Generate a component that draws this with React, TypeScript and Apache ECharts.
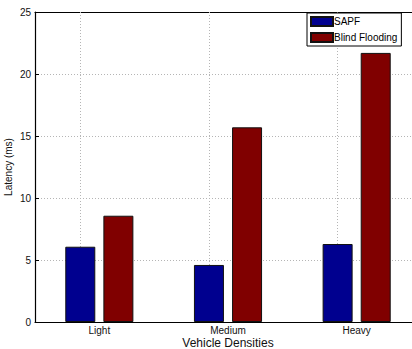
import React, { useEffect, useRef } from "react";
import * as echarts from "echarts";

// Vehicle density groups and latency per scheme
const categories = ["Light", "Medium", "Heavy"];
const sapfLatency = [6.07, 4.6, 6.29];
const blindFloodingLatency = [8.57, 15.7, 21.7];
const yTicks = { min: 0, max: 25, interval: 5 };

const FONT = "Liberation Sans, Arial, Helvetica, sans-serif";

export default function App() {
  const ref = useRef<HTMLDivElement>(null);

  useEffect(() => {
    if (!ref.current) return;
    const chart = echarts.init(ref.current, undefined, { renderer: "svg" });

    const gridDots = { color: "#b5b5b5", type: [1, 2] as any, width: 1 };

    chart.setOption({
      animation: false,
      backgroundColor: "#ffffff",
      grid: {
        left: 35,
        top: 12,
        width: 386,
        height: 310,
        containLabel: false,
        outerBoundsMode: "none",
      },
      legend: {
        orient: "vertical",
        left: 307,
        top: 13,
        padding: [3, 4, 3, 3],
        itemWidth: 22,
        itemHeight: 9,
        itemGap: 5,
        backgroundColor: "#ffffff",
        borderColor: "#000000",
        borderWidth: 1,
        borderRadius: 0,
        icon: "rect",
        textStyle: { fontFamily: FONT, fontSize: 10, color: "#000", padding: [0, 0, 0, -4] },
        data: ["SAPF", "Blind Flooding"],
      },
      xAxis: [
        {
          type: "category",
          data: categories,
          position: "bottom",
          name: "Vehicle Densities",
          nameLocation: "middle",
          nameGap: 15,
          nameMoveOverlap: false,
          nameTextStyle: { fontFamily: FONT, fontSize: 12, color: "#111", lineHeight: 12 },
          axisLine: { lineStyle: { color: "#000", width: 1.2 } },
          axisTick: { alignWithLabel: true, inside: true, length: 4, lineStyle: { color: "#000" } },
          axisLabel: { fontFamily: FONT, fontSize: 10, color: "#111", margin: 3, lineHeight: 10 },
          splitLine: { show: false },
        },
        {
          type: "category",
          data: categories,
          position: "top",
          axisLine: { lineStyle: { color: "#000", width: 1.2 } },
          axisTick: { alignWithLabel: true, inside: true, length: 4, lineStyle: { color: "#000" } },
          axisLabel: { show: false },
          splitLine: { show: false },
        },
      ],
      yAxis: [
        {
          type: "value",
          min: yTicks.min,
          max: yTicks.max,
          interval: yTicks.interval,
          name: "Latency (ms)",
          nameLocation: "middle",
          nameGap: 22,
          nameMoveOverlap: false,
          nameTextStyle: { fontFamily: FONT, fontSize: 10, color: "#111" },
          axisLine: { show: true, lineStyle: { color: "#000", width: 1.2 } },
          axisTick: { show: true, inside: true, length: 4, lineStyle: { color: "#000" } },
          axisLabel: { fontFamily: FONT, fontSize: 10, color: "#111", margin: 4 },
          splitLine: { show: true, lineStyle: gridDots },
        },
      ],
      series: [
        {
          name: "SAPF",
          type: "bar",
          data: sapfLatency,
          barWidth: 30,
          barGap: "27%",
          itemStyle: { color: "#00008f", borderColor: "#111", borderWidth: 1 },
          markLine: {
            silent: true,
            symbol: "none",
            label: { show: false },
            lineStyle: gridDots,
            z: 1,
            data: categories.map((c) => ({ xAxis: c })),
          },
        },
        {
          name: "Blind Flooding",
          type: "bar",
          data: blindFloodingLatency,
          barWidth: 30,
          itemStyle: { color: "#800000", borderColor: "#111", borderWidth: 1 },
        },
      ],
    });

    return () => chart.dispose();
  }, []);

  return (
    <div
      ref={ref}
      style={{ position: "absolute", left: 0, top: 0, width: 412, height: 349 }}
    />
  );
}
